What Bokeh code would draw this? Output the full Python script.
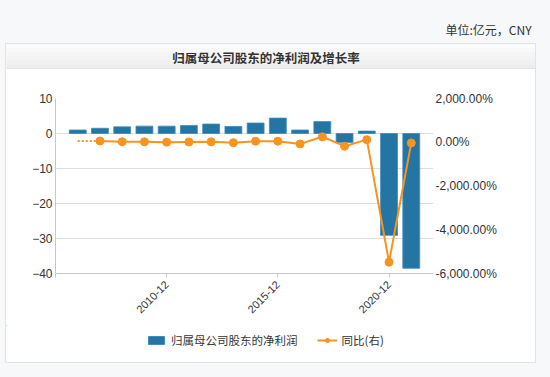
import math
from bokeh.plotting import figure
from bokeh.layouts import column, row
from bokeh.models import (Range1d, LinearAxis, FixedTicker, Label, Legend, LegendItem,
                          ColumnDataSource, Spacer)
from bokeh.embed import file_html
from bokeh.resources import INLINE

# ---------------- data ----------------
years = [2006, 2007, 2008, 2009, 2010, 2011, 2012, 2013, 2014, 2015, 2016, 2017, 2018, 2019, 2020, 2021]
profit = [1.0, 1.5, 1.9, 2.1, 2.1, 2.3, 2.7, 2.0, 3.0, 4.4, 1.0, 3.4, -2.6, 0.7, -29.1, -38.5]
yoy_years = [2007, 2008, 2009, 2010, 2011, 2012, 2013, 2014, 2015, 2016, 2017, 2018, 2019, 2020, 2021]
yoy = [60, 25, 20, 5, 15, 20, -20, 50, 48, -75, 250, -180, 120, -5480, -30]
tick_years = [2010, 2015, 2020]
tick_labels = ["2010-12", "2015-12", "2020-12"]
left_ticks = [10, 0, -10, -20, -30, -40]
right_ticks = [2000, 0, -2000, -4000, -6000]

title_text = "归属母公司股东的净利润及增长率"
unit_text = "单位:亿元，CNY"
bar_name = "归属母公司股东的净利润"
line_name = "同比(右)"

BLUE = "#2475a4"
ORANGE = "#f7931e"
TXT = "#333333"
PAGE = "#f7f8fa"
NUM_FONT = "Liberation Sans"
CJK_FONT = "Noto Sans CJK SC"

PW = 529  # inner panel width


def blank(w, h, bg):
    f = figure(width=w, height=h, output_backend="svg", toolbar_location=None,
               x_range=Range1d(0, w), y_range=Range1d(h, 0),
               x_axis_type=None, y_axis_type=None, min_border=0, frame_align=False)
    f.border_fill_color = bg
    f.background_fill_color = bg
    f.outline_line_color = None
    f.xgrid.grid_line_color = None
    f.ygrid.grid_line_color = None
    return f


# ---- unit line above the panel ----
unit_fig = blank(550, 43, PAGE)
unit_fig.add_layout(Label(x=531, y=29, text=unit_text, text_font=CJK_FONT, text_font_size="12px",
                          text_color=TXT, text_align="right", text_baseline="middle"))

# ---- title bar ----
title_fig = blank(PW, 25, "#f1f1f1")
band_cols = ["#fcfcfc", "#f9f9f9", "#f6f6f6", "#f3f3f3", "#f0f0f0", "#ececec"]
n = len(band_cols)
title_fig.quad(left=[0] * n, right=[PW] * n,
               top=[i * 24 / n for i in range(n)], bottom=[(i + 1) * 24 / n for i in range(n)],
               fill_color=band_cols, line_color=None)
title_fig.quad(left=[0], right=[PW], top=[24], bottom=[25], fill_color="#dadada", line_color=None)
title_fig.add_layout(Label(x=259.5, y=12.5, text=title_text, text_font=CJK_FONT,
                           text_font_size="12.5px", text_font_style="bold",
                           text_color=TXT, text_align="center", text_baseline="middle"))

# ---- main chart ----
p = figure(width=PW, height=256, output_backend="svg", toolbar_location=None,
           x_range=Range1d(2005, 2022), y_range=Range1d(-40, 10), frame_align=False,
           min_border_left=49, min_border_right=102, min_border_top=29, min_border_bottom=52)
p.border_fill_color = "white"
p.background_fill_color = "white"
p.outline_line_color = None

p.yaxis.ticker = FixedTicker(ticks=left_ticks)
p.yaxis.axis_line_color = "#c8c8c8"
p.yaxis.major_tick_line_color = None
p.yaxis.major_tick_in = 0
p.yaxis.major_tick_out = 0
p.yaxis.minor_tick_line_color = None
p.yaxis.minor_tick_out = 0
p.yaxis.major_label_standoff = 3
p.yaxis.major_label_text_font = NUM_FONT
p.yaxis.major_label_text_font_size = "12px"
p.yaxis.major_label_text_color = TXT

p.xaxis.ticker = FixedTicker(ticks=[2005] + tick_years)
p.xaxis.major_label_overrides = {2005: "", **{t: l for t, l in zip(tick_years, tick_labels)}}
p.xaxis.axis_line_color = "#c8c8c8"
p.xaxis.major_tick_line_color = "#c8c8c8"
p.xaxis.major_tick_in = 0
p.xaxis.major_tick_out = 4
p.xaxis.minor_tick_line_color = None
p.xaxis.major_label_orientation = math.pi / 4
p.xaxis.major_label_standoff = 5
p.xaxis.major_label_text_font = NUM_FONT
p.xaxis.major_label_text_font_size = "11px"
p.xaxis.major_label_text_color = TXT

p.xgrid.grid_line_color = None
p.ygrid.ticker = FixedTicker(ticks=left_ticks)
p.ygrid.grid_line_color = "#dedede"

p.extra_y_ranges = {"pct": Range1d(-6000, 2000)}
rax = LinearAxis(y_range_name="pct", ticker=FixedTicker(ticks=right_ticks))
rax.major_label_overrides = {t: f"{t:,.2f}%" for t in right_ticks}
rax.axis_line_color = None
rax.major_tick_line_color = None
rax.major_tick_in = 0
rax.major_tick_out = 0
rax.minor_tick_line_color = None
rax.minor_tick_out = 0
rax.major_label_standoff = 2
rax.major_label_text_font = NUM_FONT
rax.major_label_text_font_size = "12px"
rax.major_label_text_color = TXT
p.add_layout(rax, "right")

bsrc = ColumnDataSource(dict(x=years, top=profit))
p.vbar(x="x", top="top", bottom=0, width=0.76, source=bsrc,
       fill_color=BLUE, line_color="#3d8cbb", line_width=0.8)

lsrc = ColumnDataSource(dict(x=yoy_years, y=yoy))
p.line(x=[years[0], yoy_years[0]], y=[yoy[0], yoy[0]], y_range_name="pct",
       line_color=ORANGE, line_width=2, line_dash="2 2")
p.line(x="x", y="y", source=lsrc, y_range_name="pct", line_color=ORANGE, line_width=2)
p.scatter(x="x", y="y", source=lsrc, y_range_name="pct", size=8,
          fill_color=ORANGE, line_color=ORANGE)

# ---- legend strip (legend proxies sit outside the visible range) ----
leg_fig = blank(PW, 37, "white")
proxy = ColumnDataSource(dict(x=[-1000, -990], y=[-1000, -1000]))
lb = leg_fig.vbar(x="x", top="y", width=1, source=proxy, fill_color=BLUE, line_color="#3d8cbb")
ll = leg_fig.line(x="x", y="y", source=proxy, line_color=ORANGE, line_width=2)
ls = leg_fig.scatter(x="x", y="y", source=proxy, fill_color=ORANGE, line_color=ORANGE)
legend = Legend(items=[LegendItem(label=bar_name, renderers=[lb]),
                       LegendItem(label=line_name, renderers=[ll, ls])],
                orientation="horizontal", location=(140, 14),
                glyph_width=20, glyph_height=10, label_height=12,
                label_standoff=5, spacing=19, padding=0, margin=0,
                border_line_color=None, background_fill_alpha=0,
                label_text_font=CJK_FONT, label_text_font_size="11.5px",
                label_text_color=TXT)
leg_fig.add_layout(legend)

panel = column(title_fig, p, leg_fig, spacing=0,
               styles={"border": "1px solid #e1e3e6", "background-color": "white"})
mid = row(Spacer(width=5, height=320), panel, spacing=0)
page = column(unit_fig, mid, Spacer(width=550, height=14), spacing=0,
              styles={"background-color": PAGE}, width=550, height=377)

open("out.html", "w").write(file_html(page, INLINE))
